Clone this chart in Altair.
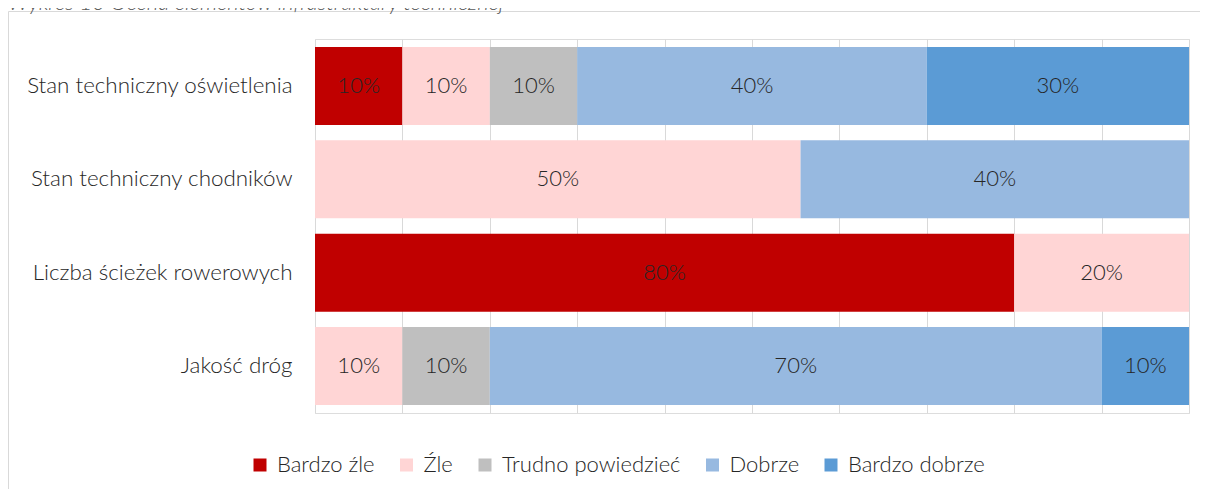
import altair as alt
import pandas as pd

title_text = "Wykres 10 Ocena elementów infrastruktury technicznej"
categories = [
    "Stan techniczny oświetlenia",
    "Stan techniczny chodników",
    "Liczba ścieżek rowerowych",
    "Jakość dróg",
]
ratings = ["Bardzo źle", "Źle", "Trudno powiedzieć", "Dobrze", "Bardzo dobrze"]
colors = ["#C00000", "#FFD5D5", "#BFBFBF", "#97B9E0", "#5B9BD5"]

row_category = [
    "Stan techniczny oświetlenia", "Stan techniczny oświetlenia", "Stan techniczny oświetlenia",
    "Stan techniczny oświetlenia", "Stan techniczny oświetlenia",
    "Stan techniczny chodników", "Stan techniczny chodników",
    "Liczba ścieżek rowerowych", "Liczba ścieżek rowerowych",
    "Jakość dróg", "Jakość dróg", "Jakość dróg", "Jakość dróg",
]
row_rating = [
    "Bardzo źle", "Źle", "Trudno powiedzieć", "Dobrze", "Bardzo dobrze",
    "Źle", "Dobrze",
    "Bardzo źle", "Źle",
    "Źle", "Trudno powiedzieć", "Dobrze", "Bardzo dobrze",
]
row_value = [10, 10, 10, 40, 30, 50, 40, 80, 20, 10, 10, 70, 10]
x_ticks = [0, 0.1, 0.2, 0.3, 0.4, 0.5, 0.6, 0.7, 0.8, 0.9, 1.0]

FONT = "Lato"
FW = 300
FS = 22
TXT = "#262626"

df = pd.DataFrame({
    "category": row_category,
    "rating": row_rating,
    "value": row_value,
    "order": [ratings.index(r) for r in row_rating],
})

base = alt.Chart(df).transform_stack(
    stack="value",
    as_=["v0", "v1"],
    groupby=["category"],
    offset="normalize",
    sort=[alt.SortField("order", order="ascending")],
).transform_calculate(
    mid="(datum.v0 + datum.v1) / 2",
    label="datum.value + '%'",
)

y_enc = alt.Y(
    "category:N",
    sort=categories,
    scale=alt.Scale(paddingInner=0.164, paddingOuter=0.086),
    axis=alt.Axis(
        title=None, domain=False, ticks=False, grid=False,
        labelFont=FONT, labelFontSize=22.4, labelFontWeight=FW, labelColor=TXT,
        labelPadding=23, labelLimit=400,
    ),
)

bars = base.mark_bar(strokeWidth=0).encode(
    y=y_enc,
    x=alt.X(
        "v0:Q",
        scale=alt.Scale(domain=[0, 1], nice=False),
        axis=alt.Axis(
            title=None, labels=False, ticks=False, domain=False,
            grid=True, gridColor="#D9D9D9", gridWidth=1, values=x_ticks,
        ),
    ),
    x2="v1:Q",
    color=alt.Color(
        "rating:N",
        scale=alt.Scale(domain=ratings, range=colors),
        legend=alt.Legend(
            title=None, orient="none", legendX=-66, legendY=415,
            direction="horizontal", symbolType="square", symbolSize=169,
            symbolStrokeWidth=0, labelFont=FONT, labelFontSize=FS,
            labelFontWeight=FW, labelColor=TXT, columnPadding=20.5, labelOffset=6,
            labelLimit=400,
        ),
    ),
)

labels = base.mark_text(font=FONT, fontSize=FS, fontWeight=FW, color=TXT).encode(
    y=alt.Y("category:N", sort=categories),
    x=alt.X("mid:Q"),
    text="label:N",
)

border = alt.Chart(pd.DataFrame({"t": [title_text]})).mark_rect(
    fillOpacity=0, stroke="#D9D9D9", strokeWidth=1
).encode(
    x=alt.value(-306.5), x2=alt.value(1600), y=alt.value(-27.5), y2=alt.value(900)
)

title = alt.Chart(pd.DataFrame({"t": [title_text]})).mark_text(
    font=FONT, fontSize=FS, fontWeight=FW, fontStyle="italic", color="#595959",
    align="left", baseline="alphabetic",
).encode(x=alt.value(-307), y=alt.value(-29), text="t:N")

chart = alt.layer(border, title, bars, labels).properties(
    width=874,
    height=374,
    autosize=alt.AutoSizeParams(type="none"),
    padding={"left": 307, "top": 31, "right": 11, "bottom": 76},
).configure_view(stroke=None).configure(background="white")

chart.save("out.html", embed_options={"renderer": "svg", "actions": False})
